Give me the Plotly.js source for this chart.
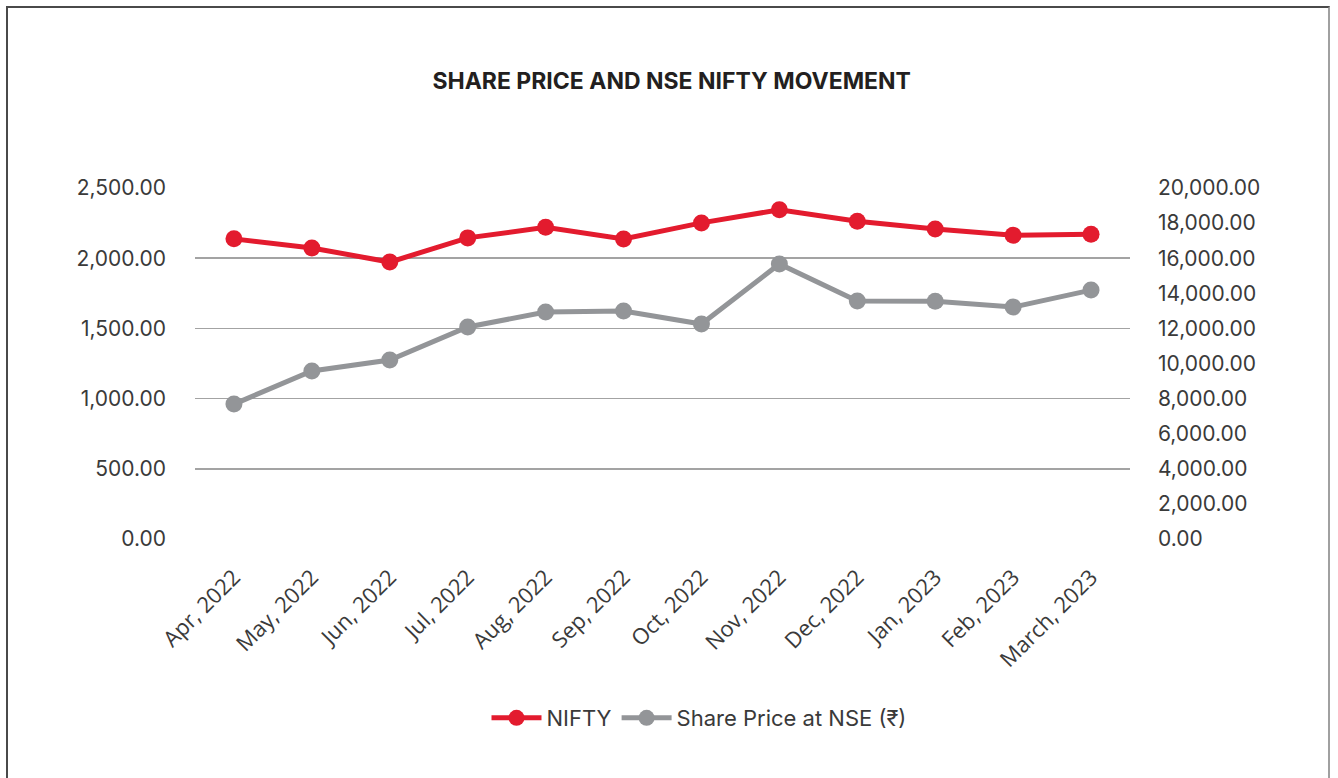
<!DOCTYPE html>
<html>
<head>
<meta charset="utf-8">
<script src="https://cdn.plot.ly/plotly-3.0.1.min.js"></script>
<style>
html, body { margin:0; padding:0; background:#fff; width:1338px; height:778px; overflow:hidden; }
#frame { position:absolute; left:6px; top:6px; width:1324px; height:800px; border-left:2px solid #4a4a4a; border-top:2px solid #4a4a4a; border-right:2px solid #a0a0a0; box-sizing:border-box; pointer-events:none; z-index:5; }
#chart { position:absolute; left:0; top:0; width:1338px; height:778px; }
</style>
</head>
<body>
<div id="chart"></div>
<div id="frame"></div>
<script>
const months = ["Apr, 2022","May, 2022","Jun, 2022","Jul, 2022","Aug, 2022","Sep, 2022","Oct, 2022","Nov, 2022","Dec, 2022","Jan, 2023","Feb, 2023","March, 2023"];
const nifty = [17102, 16584, 15780, 17158, 17759, 17094, 18012, 18758, 18105, 17662, 17304, 17360];
const sharePrice = [961, 1197, 1275, 1510, 1617, 1624, 1531, 1959, 1695, 1693, 1652, 1773];
const leftTicks = [0, 500, 1000, 1500, 2000, 2500];
const rightTicks = [0, 2000, 4000, 6000, 8000, 10000, 12000, 14000, 16000, 18000, 20000];

const fmt = v => v.toLocaleString('en-US', {minimumFractionDigits:2, maximumFractionDigits:2});
const numFont = {family:"Inter, 'Open Sans', sans-serif", size:21, color:"#3a3a3a"};

const traces = [
  {x: months, y: nifty, name: "NIFTY", type: "scatter", mode: "lines+markers", yaxis: "y2",
   line: {color: "#E31B2E", width: 5}, marker: {color: "#E31B2E", size: 17}},
  {x: months, y: sharePrice, name: "Share Price at NSE (₹)", type: "scatter", mode: "lines+markers", yaxis: "y",
   line: {color: "#939598", width: 5}, marker: {color: "#939598", size: 17}}
];

const layout = {
  width: 1338, height: 778,
  margin: {l: 195, r: 208, t: 188, b: 239},
  paper_bgcolor: "#ffffff", plot_bgcolor: "#ffffff",
  title: {text: "<b>SHARE PRICE AND NSE NIFTY MOVEMENT</b>", font: {family: "Inter, 'Open Sans', sans-serif", size: 23, color: "#231f20"},
          xref: "container", yref: "container", x: 0.502, y: 0.896, xanchor: "center", yanchor: "middle"},
  xaxis: {type: "category", tickangle: -45, tickfont: {family: "'Open Sans', 'Noto Sans', sans-serif", size: 22, color: "#3a3a3a"},
          showgrid: false, zeroline: false, showline: false, ticks: "", ticklabelstandoff: 20, range: [-0.5, 11.5]},
  yaxis: {range: [0, 2500], tickvals: leftTicks, ticktext: leftTicks.map(fmt), tickfont: numFont,
          showgrid: true, gridcolor: "#a3a3a3", gridwidth: 1.5, zeroline: false, showline: false, ticks: "", ticklabelstandoff: 28, fixedrange: true},
  yaxis2: {range: [0, 20000], overlaying: "y", side: "right", tickvals: rightTicks, ticktext: rightTicks.map(fmt), tickfont: numFont,
           showgrid: false, zeroline: false, showline: false, ticks: "", ticklabelstandoff: 27},
  showlegend: true,
  legend: {orientation: "h", xref: "container", yref: "container", x: 699/1338, y: 1 - 718/778, xanchor: "center", yanchor: "middle",
           font: {family: "Inter, 'Open Sans', sans-serif", size: 22, color: "#3a3a3a"}, itemwidth: 50, traceorder: "normal"}
};

Plotly.newPlot("chart", traces, layout, {displayModeBar: false, staticPlot: true});
</script>
</body>
</html>
